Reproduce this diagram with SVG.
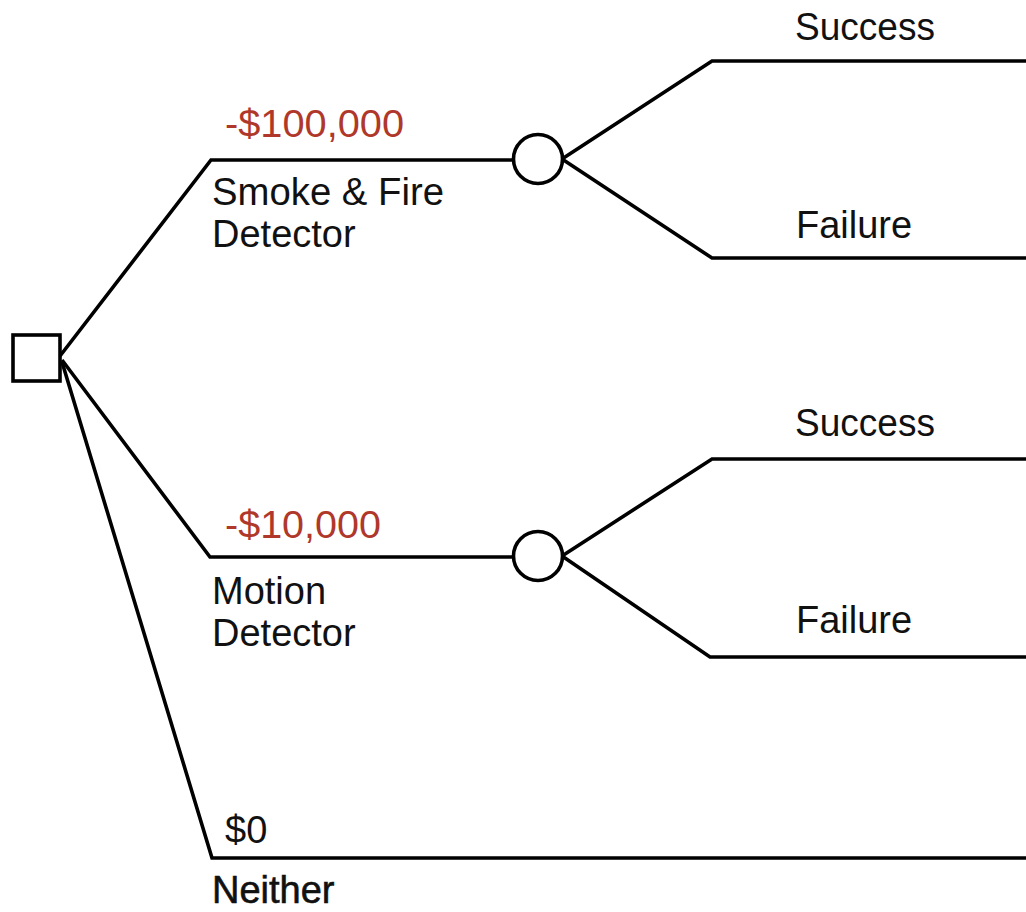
<svg xmlns="http://www.w3.org/2000/svg" width="1026" height="912" viewBox="0 0 1026 912">
<style>
.ln{fill:none;stroke:#000;stroke-width:3.6;stroke-linejoin:miter}
.nd{fill:#fff;stroke:#000;stroke-width:3.6}
text{font-family:"Liberation Sans",Arial,sans-serif;font-size:38px;fill:#111}
.cost{fill:#b0382b}
.heavy{stroke:#111;stroke-width:0.6}
</style>
<rect width="1026" height="912" fill="#fff"/>
<g id="connectors">
<polyline class="ln" points="60,356 211,160 514,160"/>
<polyline class="ln" points="62,360 210,557 514,557"/>
<polyline class="ln" points="62,362 212,858 1026,858"/>
<polyline class="ln" points="562,159 712,61 1026,61"/>
<polyline class="ln" points="562,159 712,258 1026,258"/>
<polyline class="ln" points="562,556 712,459 1026,459"/>
<polyline class="ln" points="562,556 710,657 1026,657"/>
</g>
<g id="decision">
<rect class="nd" x="13" y="335" width="47" height="46"/>
</g>
<g id="chance1">
<circle class="nd" cx="538" cy="159" r="24.5"/>
</g>
<g id="chance2">
<circle class="nd" cx="538" cy="556" r="24.5"/>
</g>
<g id="labels-smoke">
<text class="cost" x="225" y="137" textLength="179" lengthAdjust="spacingAndGlyphs">-$100,000</text>
<text x="212" y="205" textLength="232" lengthAdjust="spacingAndGlyphs">Smoke &amp; Fire</text>
<text x="212" y="247">Detector</text>
</g>
<g id="labels-motion">
<text class="cost" x="225" y="538" textLength="156" lengthAdjust="spacingAndGlyphs">-$10,000</text>
<text x="212" y="604">Motion</text>
<text x="212" y="646">Detector</text>
</g>
<g id="labels-neither">
<text x="225" y="843">$0</text>
<text class="heavy" x="212" y="903">Neither</text>
</g>
<g id="outcomes1">
<text x="795" y="40" textLength="140" lengthAdjust="spacingAndGlyphs">Success</text>
<text x="796" y="238">Failure</text>
</g>
<g id="outcomes2">
<text x="795" y="436" textLength="140" lengthAdjust="spacingAndGlyphs">Success</text>
<text x="796" y="633">Failure</text>
</g>
</svg>
